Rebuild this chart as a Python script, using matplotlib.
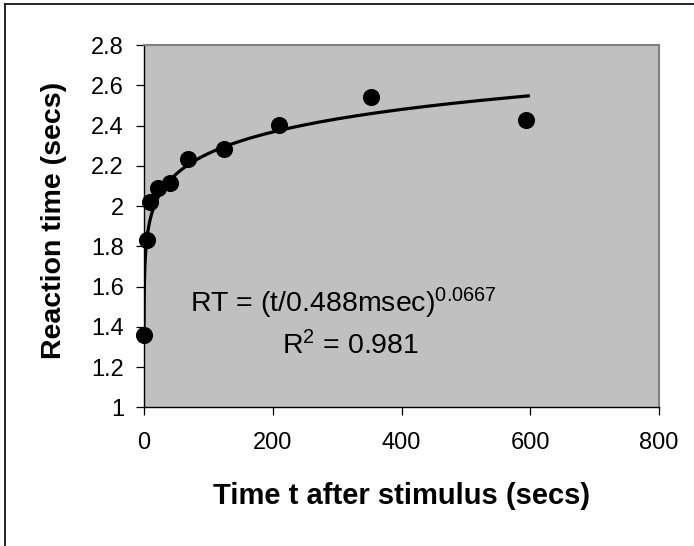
"""
Reaction time vs time after stimulus, with power-law trendline.
"""

import numpy as np
import matplotlib
matplotlib.use('Agg')
import matplotlib.pyplot as plt
from matplotlib.lines import Line2D

plt.rcParams['font.family'] = ['Liberation Sans', 'DejaVu Sans']
plt.rcParams['mathtext.fontset'] = 'custom'
plt.rcParams['mathtext.rm'] = 'Liberation Sans'
plt.rcParams['mathtext.default'] = 'regular'

# data
time_s = [0.05, 4, 10, 22, 41, 68, 124, 209, 352, 594]
reaction_s = [1.36, 1.83, 2.02, 2.09, 2.115, 2.235, 2.285, 2.405, 2.54, 2.425]

# trendline parameters, as printed on the chart
fit_scale_s = 0.000488
fit_exponent = 0.0667
fit_r2 = 0.981

x_ticks = [0, 200, 400, 600, 800]
y_ticks = [1, 1.2, 1.4, 1.6, 1.8, 2, 2.2, 2.4, 2.6, 2.8]


def main():
    fig = plt.figure(figsize=(6.94, 5.46), dpi=100)
    ax = fig.add_axes([144 / 694, 1 - 407.3 / 546, 515 / 694, 362.3 / 546])
    ax.set_facecolor('#C0C0C0')

    # trendline RT = (t / scale) ** exponent over the data range
    t_fit = np.geomspace(time_s[0], 597, 300)
    ax.plot(t_fit, (t_fit / fit_scale_s) ** fit_exponent,
            color='black', lw=2.3, zorder=2)

    ax.plot(time_s, reaction_s, 'o', color='black', ms=11.3,
            clip_on=False, zorder=3)

    ax.set_xlim(0, 800)
    ax.set_ylim(1, 2.8)
    ax.set_xticks(x_ticks)
    ax.set_yticks(y_ticks)
    ax.set_yticklabels([f'{v:g}' for v in y_ticks])

    ax.tick_params(axis='both', direction='out', length=5.8, width=0.9,
                   labelsize=17, colors='black')
    ax.tick_params(axis='y', pad=8.6)
    ax.tick_params(axis='x', pad=12)

    for side in ['left', 'bottom']:
        ax.spines[side].set_color('black')
        ax.spines[side].set_linewidth(1.0)
    for side in ['top', 'right']:
        ax.spines[side].set_color('#808080')
        ax.spines[side].set_linewidth(1.5)

    ax.set_xlabel('Time t after stimulus (secs)', fontsize=21,
                  fontweight='bold')
    ax.set_ylabel('Reaction time (secs)', fontsize=20.5, fontweight='bold')
    ax.xaxis.set_label_coords(0.5, -0.205)
    ax.yaxis.set_label_coords(-0.15, 0.515)

    ax.text(0.089, 0.288,
            f'RT = (t/{fit_scale_s * 1000:g}msec)$^{{{fit_exponent:g}}}$',
            transform=ax.transAxes, fontsize=20.5, ha='left', va='center')
    ax.text(0.268, 0.169, f'R$^{{2}}$ = {fit_r2:g}',
            transform=ax.transAxes, fontsize=20.5, ha='left', va='center')

    # chart border (only left and top edges fall inside the image)
    fig.add_artist(Line2D([5 / 694, 5 / 694], [-0.1, 1 - 4 / 546],
                          color='black', lw=1.2))
    fig.add_artist(Line2D([5 / 694, 1.1], [1 - 4 / 546, 1 - 4 / 546],
                          color='black', lw=1.2))

    fig.savefig('out.png', dpi=100)
    plt.close(fig)


if __name__ == "__main__":
    main()
